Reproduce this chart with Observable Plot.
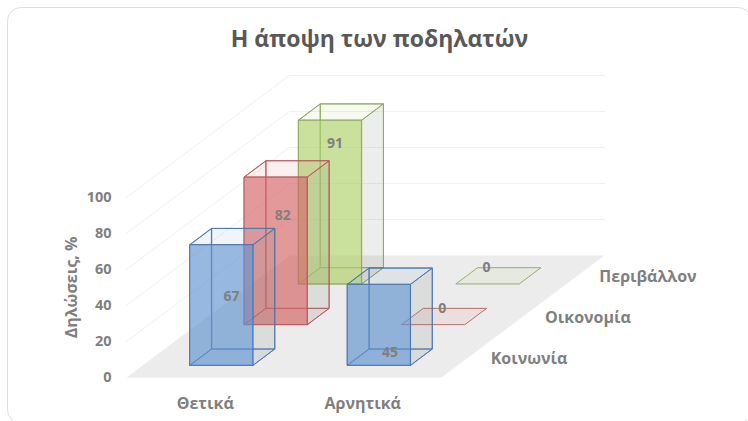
<!DOCTYPE html>
<html><head><meta charset="utf-8">
<script src="https://cdn.jsdelivr.net/npm/d3@7"></script>
<script src="https://cdn.jsdelivr.net/npm/@observablehq/plot@0.6"></script>
<style>
html,body{margin:0;padding:0;background:#fff}
#card{position:absolute;left:7px;top:7px;width:745px;height:417px;border:1.5px solid #dedede;border-radius:14px;box-sizing:border-box}
#wrap{position:absolute;left:0;top:0;width:748px;height:421px;overflow:hidden}
svg{position:absolute;left:0;top:0;background:transparent !important}
</style></head><body>
<div id="wrap"><div id="card"></div></div>
<script>
const title = "Η άποψη των ποδηλατών";
const yTitle = "Δηλώσεις, %";
const categories = ["Θετικά", "Αρνητικά"];
const seriesNames = ["Κοινωνία", "Οικονομία", "Περιβάλλον"];
const valuesKoinonia = [67, 45];
const valuesOikonomia = [82, 0];
const valuesPerivallon = [91, 0];
const allValues = [valuesKoinonia, valuesOikonomia, valuesPerivallon];
const yTicks = [0, 20, 40, 60, 80, 100];

const fills = ["#6193d0", "#d46464", "#afd06a"];
const strokes = ["#4a74ab", "#b55a5c", "#8aa857"];
// hand offsets (px) of the data labels: [series][category]
const labelDx = [[-1, 0], [-4, -2], [-6, -12]];
const labelDy = [[0, 36], [-27, -8], [-50, -8]];

// oblique projection: category units across, value units up, series units into the page
const kx = 54.33 / 157.5, ky = 40.67 / 1.8;
const P = (c, d, v) => ({px: c + d * kx, py: v + d * ky});

const faces = [];
function face(name, pts, fill, fo, stroke) {
  pts.forEach(p => faces.push({id: name, ...p, fill, fo, stroke}));
}
const order = [];
for (let s = 2; s >= 0; s--) for (let c = 0; c < 2; c++) order.push([s, c]);
order.forEach(([s, c]) => {
  const v = allValues[s][c];
  const x0 = c + .3, x1 = c + .7, d0 = s + .3, d1 = s + .7;
  const col = fills[s], st = strokes[s], k = s + "-" + c;
  if (v > 0) {
    face(k + "back", [P(x0,d1,0),P(x1,d1,0),P(x1,d1,v),P(x0,d1,v)], col, .02, st);
    face(k + "left", [P(x0,d0,0),P(x0,d1,0),P(x0,d1,v),P(x0,d0,v)], col, .02, st);
    face(k + "bottom", [P(x0,d0,0),P(x1,d0,0),P(x1,d1,0),P(x0,d1,0)], col, .06, st);
    face(k + "right", [P(x1,d0,0),P(x1,d1,0),P(x1,d1,v),P(x1,d0,v)], "#8a8f86", .14, st);
  }
  face(k + "top", [P(x0,d0,v),P(x1,d0,v),P(x1,d1,v),P(x0,d1,v)], col, v > 0 ? .08 : .1, st);
  if (v > 0) face(k + "front", [P(x0,d0,0),P(x1,d0,0),P(x1,d0,v),P(x0,d0,v)], col, .65, st);
});

const floor = [P(0,0,0), P(2,0,0), P(2,3,0), P(0,3,0)];
const grid = yTicks.slice(1).flatMap(v => [P(0,0,v), P(0,3,v), P(2,3,v)].map(p => ({...p, v})));
const labels = allValues.flatMap((vals, s) => vals.map((v, c) => {
  const p = P(c + .5, s + .5, v / 2);
  return {px: p.px + labelDx[s][c] / 157.5, py: p.py - labelDy[s][c] / 1.8, v};
}));
const seriesLabels = seriesNames.map((name, s) => ({...P(2, s + .5, 0), name}));
const fontName = "'Open Sans', sans-serif";
const gray = "#7f7f7f";

const chart = Plot.plot({
  width: 748, height: 421,
  marginTop: 0, marginLeft: 0, marginRight: 0, marginBottom: 24,
  style: {background: "transparent", fontFamily: fontName},
  x: {type: "linear", domain: [-126 / 157.5, 622 / 157.5], range: [0, 748], axis: null},
  y: {type: "linear", domain: [(377 - 421) / 1.8, 377 / 1.8], range: [421, 0], axis: null},
  marks: [
    Plot.line(floor, {x: "px", y: "py", curve: "linear-closed", fill: "#ececec", stroke: "none"}),
    Plot.line(grid, {x: "px", y: "py", z: "v", stroke: "#efefef", strokeWidth: 1}),
    Plot.line(faces, {x: "px", y: "py", z: "id", curve: "linear-closed", fill: "fill", fillOpacity: "fo", stroke: "stroke", strokeWidth: 1, strokeOpacity: .88}),
    Plot.axisY(yTicks, {x: 0, anchor: "left", tickSize: 0, tickPadding: 15, fontSize: 14.5, fontWeight: 700, fill: gray, label: null}),
    Plot.axisX([.5, 1.5], {anchor: "bottom", tickSize: 0, tickPadding: 0, fontSize: 16, fontWeight: 700, fill: gray, label: null, tickFormat: d => categories[Math.floor(d)]}),
    Plot.text(labels, {x: "px", y: "py", text: "v", fontSize: 14, fontWeight: 700, fill: gray}),
    Plot.text(seriesLabels, {x: "px", y: "py", text: "name", dx: 22, dy: 1.5, textAnchor: "start", fontSize: 16, fontWeight: 700, fill: gray}),
    Plot.text([yTitle], {x: [-.35], y: [50], text: d => d, rotate: -90, fontSize: 16, fontWeight: 700, fill: gray}),
    Plot.text([title], {frameAnchor: "top", dy: 30, dx: 5, text: d => d, fontSize: 23, fontWeight: 700, fill: "#595959", style: {letterSpacing: "2.85px"}})
  ]
});
document.getElementById("wrap").appendChild(chart);
</script>
</body></html>
